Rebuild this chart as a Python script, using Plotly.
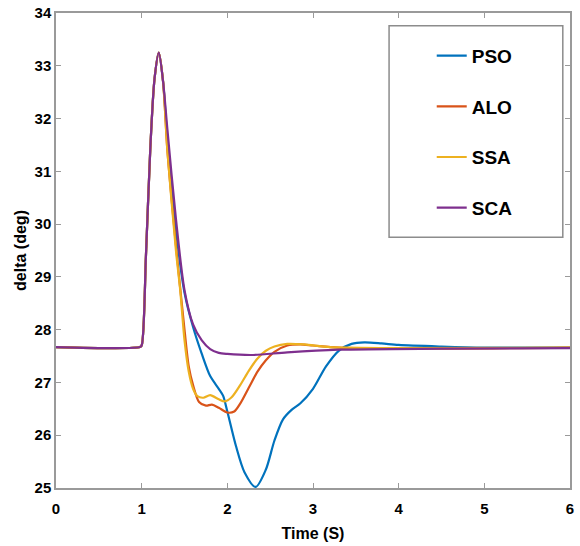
import plotly.graph_objects as go

# shared part: steady state, disturbance at t=1 s and the peak
t_rise = [0, 0.98, 1.0, 1.05, 1.1, 1.15, 1.2, 1.25]
d_rise = [27.67, 27.67, 27.7, 29.4, 31.4, 32.75, 33.25, 32.7]

# PSO
t_pso = [1.3, 1.4, 1.5, 1.6, 1.7, 1.8, 1.9, 1.95, 2.0, 2.1, 2.2, 2.33, 2.45, 2.55,
         2.65, 2.75, 2.85, 3.0, 3.15, 3.3, 3.45, 3.6, 3.8, 4.0, 4.5, 5.0, 6.0]
d_pso = [31.6, 29.9, 28.7, 28.05, 27.55, 27.12, 26.88, 26.75, 26.45, 25.8, 25.3,
         25.02, 25.35, 25.9, 26.3, 26.48, 26.6, 26.88, 27.3, 27.6, 27.73, 27.76,
         27.74, 27.71, 27.68, 27.66, 27.66]

# ALO
t_alo = [1.3, 1.4, 1.5, 1.55, 1.6, 1.67, 1.75, 1.82, 1.9, 2.0, 2.08, 2.15, 2.25,
         2.35, 2.45, 2.55, 2.7, 2.85, 3.0, 3.3, 4.0, 6.0]
d_alo = [31.4, 29.6, 28.0, 27.3, 26.95, 26.63, 26.56, 26.58, 26.52, 26.43, 26.45,
         26.6, 26.9, 27.2, 27.42, 27.58, 27.7, 27.72, 27.7, 27.66, 27.64, 27.66]

# SSA
t_ssa = [1.3, 1.4, 1.45, 1.5, 1.55, 1.6, 1.65, 1.72, 1.8, 1.9, 1.97, 2.05, 2.15,
         2.25, 2.35, 2.45, 2.55, 2.7, 2.9, 3.2, 4.0, 6.0]
d_ssa = [31.4, 29.5, 28.75, 27.8, 27.2, 26.88, 26.74, 26.71, 26.76, 26.68, 26.64,
         26.72, 26.95, 27.22, 27.45, 27.6, 27.68, 27.73, 27.72, 27.67, 27.65, 27.66]

# SCA
t_sca = [1.3, 1.4, 1.5, 1.6, 1.7, 1.8, 1.9, 2.0, 2.3, 2.7, 3.3, 4.5, 6.0]
d_sca = [31.8, 30.1, 28.75, 28.1, 27.8, 27.63, 27.56, 27.54, 27.52, 27.57, 27.62,
         27.64, 27.65]

names = ["PSO", "ALO", "SSA", "SCA"]
colors = ["#0072BD", "#D95319", "#EDB120", "#7E2F8E"]
series = [(t_pso, d_pso), (t_alo, d_alo), (t_ssa, d_ssa), (t_sca, d_sca)]

fig = go.Figure()
for name, color, (t, d) in zip(names, colors, series):
    fig.add_trace(
        go.Scatter(
            x=t_rise + t,
            y=d_rise + d,
            mode="lines",
            name=name,
            legendgroup=name,
            line=dict(color=color, width=2.2, shape="spline", smoothing=0.8),
        )
    )

axis_style = dict(
    showline=True,
    linecolor="#9a9a9a",
    linewidth=1.5,
    mirror="ticks",
    ticks="inside",
    ticklen=5,
    tickcolor="#9a9a9a",
    showgrid=False,
    zeroline=False,
    automargin=False,
    dtick=1,
    tickfont=dict(family="Liberation Sans", size=15, color="black", weight="bold"),
)
title_font = dict(family="Liberation Sans", size=16, color="black", weight="bold")

fig.update_xaxes(
    range=[0, 6],
    ticklabelstandoff=6,
    title=dict(text="Time (S)", font=title_font, standoff=12),
    **axis_style,
)
fig.update_yaxes(
    range=[25, 34],
    title=dict(text="delta (deg)", font=title_font, standoff=4),
    **axis_style,
)

fig.update_layout(
    width=580,
    height=546,
    margin=dict(l=56, r=10, t=13, b=58),
    paper_bgcolor="white",
    plot_bgcolor="white",
    showlegend=True,
    legend=dict(
        x=0.731,
        y=0.95,
        xanchor="left",
        yanchor="top",
        bgcolor="rgba(0,0,0,0)",
        borderwidth=0,
        tracegroupgap=23,
        font=dict(family="Liberation Sans", size=19, color="black", weight="bold"),
    ),
    shapes=[
        dict(type="rect", xref="paper", yref="paper", x0=0.648, x1=0.986,
             y0=0.528, y1=0.973, line=dict(color="#8c8c8c", width=1.5),
             fillcolor="rgba(0,0,0,0)"),
    ],
)

# the page's default body margin would push the figure out of the window
fig.write_html(
    "out.html",
    config={"displayModeBar": False},
    post_script="document.body.style.margin='0px';",
)
